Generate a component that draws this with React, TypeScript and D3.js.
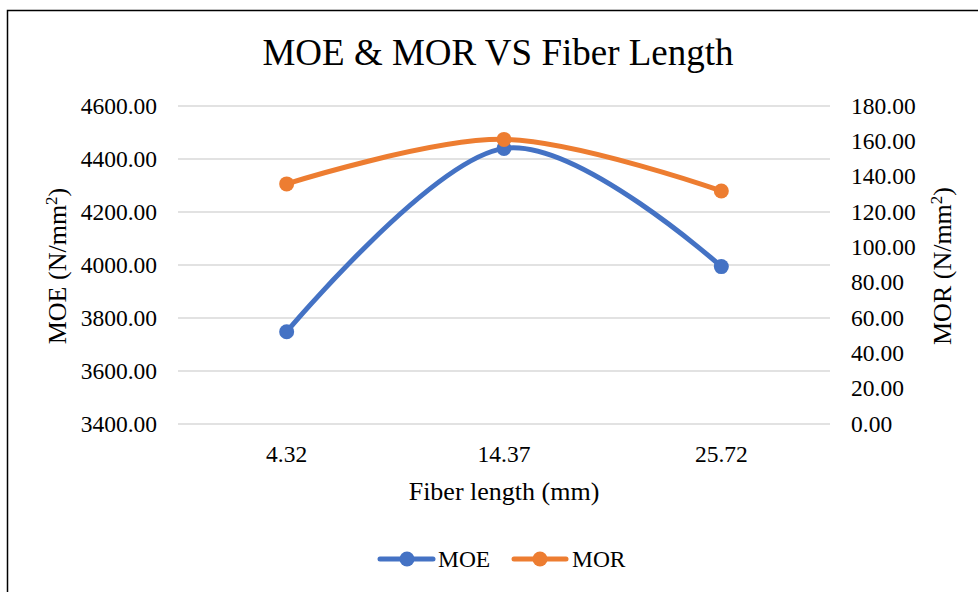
import React from "react";
import * as d3 from "d3";

const categories = ["4.32", "14.37", "25.72"];
const moeValues = [3748, 4440, 3994];
const morValues = [135.9, 161.1, 131.9];
const leftTicks = [3400, 3600, 3800, 4000, 4200, 4400, 4600];
const rightTicks = [0, 20, 40, 60, 80, 100, 120, 140, 160, 180];

const W = 978;
const H = 592;
const FONT = "'Liberation Serif', 'Times New Roman', serif";
const BLUE = "#4472C4";
const ORANGE = "#ED7D31";

export default function App() {
  const plotL = 178, plotR = 830, plotT = 106, plotB = 424;
  const x = d3.scalePoint<string>().domain(categories).range([plotL, plotR]).padding(0.5);
  const yL = d3.scaleLinear().domain([3400, 4600]).range([plotB, plotT]);
  const yR = d3.scaleLinear().domain([0, 180]).range([plotB, plotT]);

  const lineL = d3.line<number>()
    .x((_, i) => x(categories[i]) as number)
    .y((d) => yL(d))
    .curve(d3.curveCardinal.tension(0));
  const lineR = d3.line<number>()
    .x((_, i) => x(categories[i]) as number)
    .y((d) => yR(d))
    .curve(d3.curveCardinal.tension(0));

  return (
    <svg
      width={W}
      height={H}
      style={{ position: "absolute", left: 0, top: 0, background: "#fff" }}
      fontFamily={FONT}
    >
      <rect x={7.5} y={10.5} width={W + 10} height={H + 10} fill="#fff" stroke="#000" strokeWidth={1.5} />
      <text x={498} y={65} textAnchor="middle" fontSize={37} fill="#000">
        MOE &amp; MOR VS Fiber Length
      </text>

      {leftTicks.map((t) => (
        <line key={"g" + t} x1={plotL} x2={plotR} y1={yL(t)} y2={yL(t)} stroke="#d9d9d9" strokeWidth={1.5} />
      ))}
      {leftTicks.map((t) => (
        <text key={"l" + t} x={157} y={yL(t)} dy="0.33em" textAnchor="end" fontSize={23.5} fill="#000">
          {t.toFixed(2)}
        </text>
      ))}
      {rightTicks.map((t) => (
        <text key={"r" + t} x={851} y={yR(t)} dy="0.33em" textAnchor="start" fontSize={23.5} fill="#000">
          {t.toFixed(2)}
        </text>
      ))}
      {categories.map((c) => (
        <text key={"c" + c} x={x(c) as number} y={462} textAnchor="middle" fontSize={23.5} fill="#000">
          {c}
        </text>
      ))}

      <text x={504} y={500} textAnchor="middle" fontSize={26} fill="#000">
        Fiber length (mm)
      </text>
      <text transform="translate(57,266) rotate(-90)" textAnchor="middle" dy="0.33em" fontSize={26} fill="#000">
        MOE (N/mm<tspan dy={-9} fontSize={17}>2</tspan><tspan dy={9}>)</tspan>
      </text>
      <text transform="translate(942,266) rotate(-90)" textAnchor="middle" dy="0.33em" fontSize={26} fill="#000">
        MOR (N/mm<tspan dy={-9} fontSize={17}>2</tspan><tspan dy={9}>)</tspan>
      </text>

      <path d={lineL(moeValues) || ""} fill="none" stroke={BLUE} strokeWidth={5} strokeLinecap="round" />
      {moeValues.map((v, i) => (
        <circle key={"mp" + i} cx={x(categories[i]) as number} cy={yL(v)} r={7.5} fill={BLUE} />
      ))}
      <path d={lineR(morValues) || ""} fill="none" stroke={ORANGE} strokeWidth={5} strokeLinecap="round" />
      {morValues.map((v, i) => (
        <circle key={"rp" + i} cx={x(categories[i]) as number} cy={yR(v)} r={7.5} fill={ORANGE} />
      ))}

      <g>
        <line x1={380} x2={433} y1={559} y2={559} stroke={BLUE} strokeWidth={5} strokeLinecap="round" />
        <circle cx={407} cy={559} r={7.5} fill={BLUE} />
        <text x={438} y={567} fontSize={23.5} fill="#000">MOE</text>
        <line x1={514} x2={566} y1={559} y2={559} stroke={ORANGE} strokeWidth={5} strokeLinecap="round" />
        <circle cx={540} cy={559} r={7.5} fill={ORANGE} />
        <text x={572} y={567} fontSize={23.5} fill="#000">MOR</text>
      </g>
    </svg>
  );
}
